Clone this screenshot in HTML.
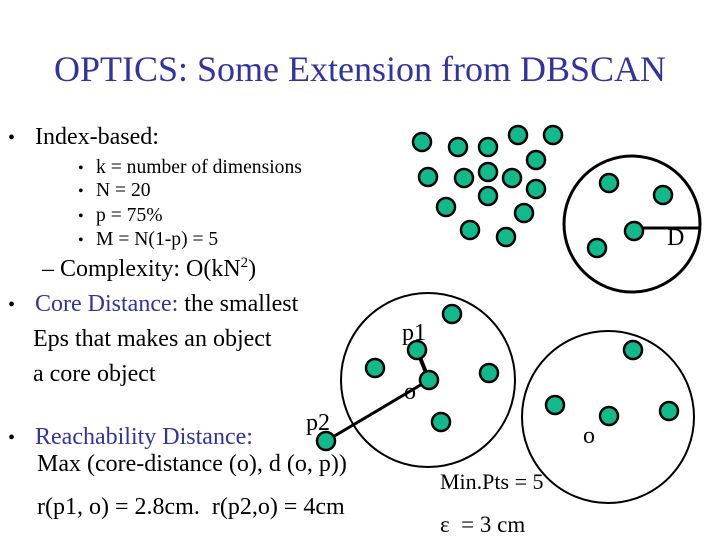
<!DOCTYPE html>
<html><head><meta charset="utf-8"><style>
html,body{margin:0;padding:0;background:#fff}
svg{display:block}
text{font-family:"Liberation Serif",serif;fill:#000}
.b{fill:#3333a0}
</style></head><body>
<svg width="720" height="540" viewBox="0 0 720 540">
<text x="360" y="81" font-size="36" text-anchor="middle" class="b">OPTICS: Some Extension from DBSCAN</text>
<g font-size="24">
<text x="8" y="144" font-size="20">•</text><text x="35" y="144">Index-based:</text>
<g font-size="20">
<text x="78" y="173" font-size="16">•</text><text x="96" y="173" font-size="19.6">k = number of dimensions</text>
<text x="78" y="196" font-size="16">•</text><text x="96" y="196" font-size="19.6">N = 20</text>
<text x="78" y="221" font-size="16">•</text><text x="96" y="221" font-size="19.6">p = 75%</text>
<text x="78" y="245" font-size="16">•</text><text x="96" y="245" font-size="19.6">M = N(1-p) = 5</text>
</g>
<text x="42" y="276" font-size="24">– Complexity:  O(kN<tspan font-size="15" dy="-9">2</tspan><tspan dy="9">)</tspan></text>
<text x="8" y="311" font-size="20">•</text><text x="35" y="311"><tspan class="b">Core Distance:</tspan> the smallest</text>
<text x="33" y="346">Eps that makes an object</text>
<text x="33" y="381">a core object</text>
<text x="306" y="430">p2</text>
<text x="8" y="444" font-size="20">•</text><text x="35" y="444" class="b">Reachability Distance:</text>
<text x="37" y="471">Max (core-distance (o), d (o, p))</text>
<text x="37" y="514" xml:space="preserve">r(p1, o) = 2.8cm.  r(p2,o) = 4cm</text>
<text x="402" y="340">p1</text>
<text x="404" y="399">o</text>
<text x="583" y="443">o</text>
<text x="667" y="245">D</text>
<text x="440" y="489" font-size="22">Min.Pts = 5</text>
<text x="440" y="532" font-size="23" xml:space="preserve">ε  = 3 cm</text>
</g>
<g fill="none" stroke="#000">
<circle cx="632" cy="224" r="68" stroke-width="3"/>
<circle cx="428" cy="380" r="87" stroke-width="2"/>
<circle cx="608" cy="417" r="86" stroke-width="2"/>
<line x1="634" y1="228" x2="700" y2="228" stroke-width="3"/>
<line x1="417" y1="350" x2="429" y2="380" stroke-width="4"/>
<line x1="429" y1="380" x2="326" y2="441" stroke-width="3"/>
</g>
<g id="dots" fill="#12b98a" stroke="#000" stroke-width="2.5"></g>
</svg>
<script>
const px=[422,458,488,518,553,536,428,464,488,512,536,488,446,524,470,506,609,663,634,597,452,417,375,429,489,441,326,633,555,609,669];
const py=[142,147,147,135,135,160,177,178,172,178,189,196,207,213,230,237,183,195,231,248,314,350,368,380,373,422,441,350,405,416,411];
const g=document.getElementById('dots');
for(let i=0;i<px.length;i++){
 const c=document.createElementNS('http://www.w3.org/2000/svg','circle');
 c.setAttribute('cx',px[i]);c.setAttribute('cy',py[i]);c.setAttribute('r',9);
 
 
 g.appendChild(c);
}
</script>
</body></html>
